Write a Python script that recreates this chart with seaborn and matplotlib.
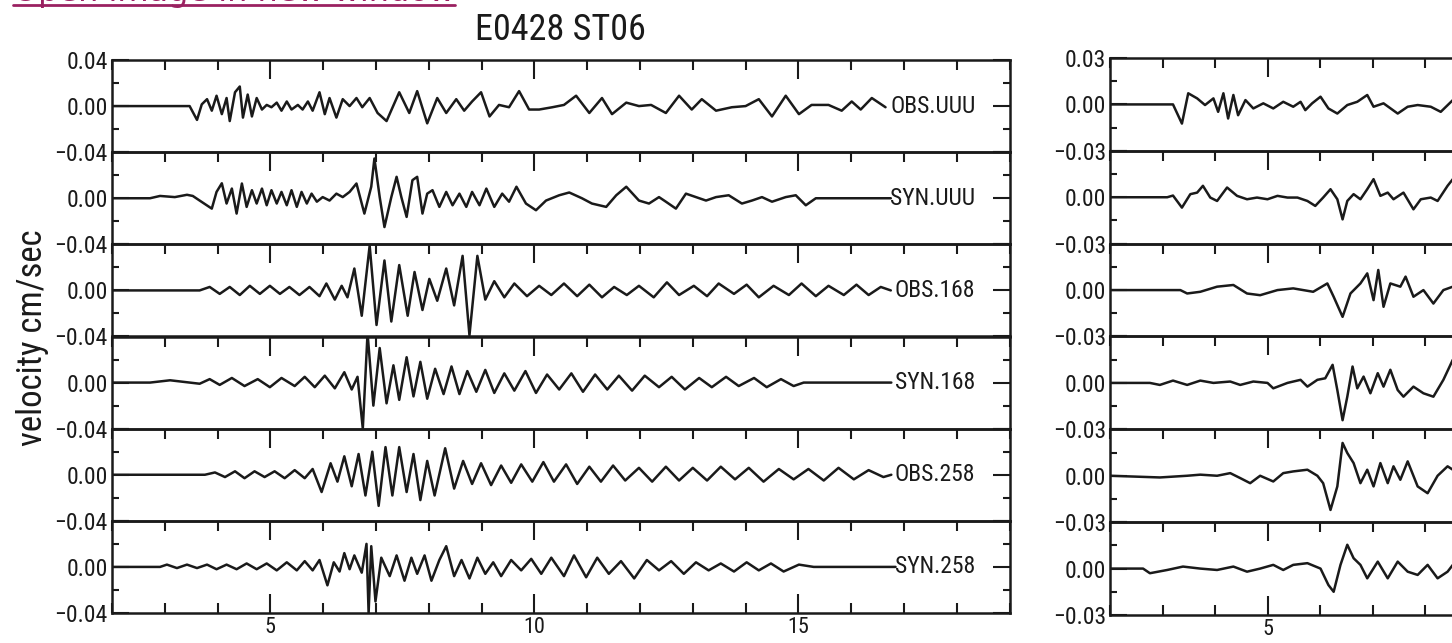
import matplotlib
matplotlib.use("Agg")
import matplotlib.pyplot as plt
from matplotlib.ticker import FixedLocator, MultipleLocator
from matplotlib.lines import Line2D
from matplotlib import font_manager
import seaborn as sns

# ---------------- data (time in s, velocity in cm/sec) ----------------
left_labels = ["OBS.UUU", "SYN.UUU", "OBS.168", "SYN.168", "OBS.258", "SYN.258"]
title_text = "E0428 ST06"
ylabel_text = "velocity cm/sec"
link_text = "Open image in new window"
x_tick_values = [5, 10, 15]
left_ylim = 0.04
right_ylim = 0.03
left_ytick_labels = ["\u22120.04", "0.00", "0.04"]
right_ytick_labels = ["\u22120.03", "0.00", "0.03"]

obs_uuu = [(2.0, 0), (3.47, 0), (3.61, -0.012), (3.70, 0.0015), (3.80, 0.006), (3.89, -0.004),
           (3.98, 0.009), (4.08, -0.007), (4.17, 0.007), (4.23, -0.013), (4.33, 0.012), (4.42, 0.017),
           (4.48, -0.010), (4.57, 0.010), (4.65, -0.009), (4.74, 0.007), (4.84, -0.003), (4.93, 0.001),
           (5.02, -0.001), (5.12, 0.003), (5.21, -0.004), (5.31, 0.004), (5.40, -0.003), (5.52, 0.001),
           (5.61, -0.003), (5.71, 0.004), (5.80, -0.004), (5.93, 0.012), (6.03, -0.007), (6.12, 0.007),
           (6.25, -0.010), (6.37, 0.006), (6.50, 0.000), (6.63, 0.007), (6.74, -0.001), (6.88, 0.007),
           (7.03, -0.006), (7.20, -0.013), (7.44, 0.012), (7.63, -0.006), (7.78, 0.013), (7.97, -0.015),
           (8.16, 0.007), (8.33, -0.006), (8.52, 0.006), (8.67, -0.004), (8.82, 0.004), (8.99, 0.012),
           (9.15, -0.009), (9.33, 0.001), (9.52, -0.001), (9.71, 0.013), (9.90, -0.003), (10.09, -0.003),
           (10.34, -0.001), (10.56, 0.001), (10.79, 0.009), (11.04, -0.006), (11.28, 0.007), (11.47, -0.007),
           (11.74, 0.003), (11.98, 0.000), (12.21, 0.001), (12.49, -0.006), (12.74, 0.009), (12.98, -0.003),
           (13.17, 0.006), (13.44, -0.004), (13.74, -0.001), (14.00, 0.000), (14.25, 0.006), (14.50, -0.009),
           (14.76, 0.009), (15.01, -0.007), (15.25, 0.001), (15.57, 0.001), (15.82, -0.004), (16.01, 0.004),
           (16.18, -0.003), (16.39, 0.007), (16.65, -0.001)]

syn_uuu = [(2.0, 0), (2.72, 0), (2.91, 0.002), (3.19, 0.001), (3.42, 0.003), (3.53, 0.002), (3.66, -0.002),
           (3.89, -0.009), (3.98, 0.0055), (4.08, 0.013), (4.17, -0.0046), (4.27, 0.0084), (4.36, -0.0133),
           (4.46, 0.0128), (4.55, -0.0075), (4.65, 0.007), (4.74, -0.0046), (4.84, 0.0084), (4.93, -0.0061),
           (5.02, 0.007), (5.12, -0.0046), (5.21, 0.0055), (5.31, -0.0061), (5.40, 0.007), (5.50, -0.0075),
           (5.59, 0.0055), (5.69, -0.0046), (5.78, 0.004), (5.88, -0.003), (5.99, 0.001), (6.12, -0.002),
           (6.25, 0.004), (6.37, 0.001), (6.50, 0.0055), (6.63, 0.0128), (6.78, -0.0133), (6.91, 0.010),
           (6.97, 0.0345), (7.07, 0.001), (7.16, -0.025), (7.29, 0.001), (7.39, 0.0186), (7.48, 0.001),
           (7.58, -0.0162), (7.69, 0.0157), (7.78, 0.0186), (7.88, -0.0133), (7.97, 0.004), (8.07, 0.007),
           (8.20, -0.0075), (8.33, 0.0055), (8.45, -0.0061), (8.58, 0.004), (8.71, -0.0075), (8.82, 0.0055),
           (8.96, -0.0061), (9.09, 0.0084), (9.24, -0.0075), (9.39, 0.004), (9.52, -0.003), (9.66, 0.010),
           (9.84, -0.0046), (10.03, -0.0104), (10.22, -0.002), (10.47, 0.0026), (10.66, 0.005), (10.90, 0.0),
           (11.09, -0.0046), (11.36, -0.0075), (11.55, 0.0026), (11.74, 0.010), (11.98, -0.002), (12.17, -0.0046),
           (12.36, 0.001), (12.49, -0.003), (12.68, -0.009), (12.87, 0.004), (13.06, 0.001), (13.25, -0.002),
           (13.44, 0.001), (13.68, 0.0026), (13.93, -0.0046), (14.12, -0.002), (14.31, 0.001), (14.50, -0.003),
           (14.76, 0.001), (14.95, 0.0026), (15.14, -0.0061), (15.33, 0.0), (16.75, 0.0)]

obs_168 = [(2.0, 0), (3.66, 0), (3.85, 0.003), (4.04, -0.003), (4.23, 0.003), (4.42, -0.004), (4.61, 0.004),
           (4.80, -0.003), (4.99, 0.004), (5.18, -0.003), (5.36, 0.003), (5.55, -0.004), (5.74, 0.003),
           (5.93, -0.005), (6.06, 0.006), (6.22, -0.008), (6.35, 0.004), (6.46, -0.006), (6.59, 0.019),
           (6.73, -0.022), (6.88, 0.039), (7.01, -0.030), (7.16, 0.026), (7.29, -0.027), (7.44, 0.022),
           (7.60, -0.022), (7.73, 0.016), (7.88, -0.017), (8.01, 0.010), (8.16, -0.009), (8.33, 0.019),
           (8.48, -0.013), (8.64, 0.030), (8.77, -0.039), (8.92, 0.030), (9.07, -0.008), (9.24, 0.008),
           (9.43, -0.006), (9.62, 0.006), (9.86, -0.005), (10.09, 0.004), (10.32, -0.004), (10.56, 0.006),
           (10.81, -0.005), (11.04, 0.005), (11.28, -0.006), (11.51, 0.003), (11.75, -0.004), (11.98, 0.004),
           (12.26, -0.006), (12.51, 0.007), (12.74, -0.004), (13.02, 0.004), (13.27, -0.005), (13.49, 0.006),
           (13.78, -0.003), (14.02, 0.005), (14.25, -0.006), (14.53, 0.004), (14.82, -0.004), (15.06, 0.006),
           (15.33, -0.005), (15.57, 0.004), (15.86, -0.004), (16.10, 0.005), (16.33, -0.004), (16.56, 0.003),
           (16.75, 0.0)]

syn_168 = [(2.0, 0), (2.72, 0), (3.10, 0.002), (3.66, -0.001), (3.85, 0.003), (4.04, -0.002), (4.27, 0.004),
           (4.51, -0.003), (4.76, 0.003), (4.99, -0.004), (5.21, 0.004), (5.46, -0.003), (5.65, 0.005),
           (5.84, -0.004), (6.03, 0.006), (6.22, -0.005), (6.40, 0.009), (6.54, -0.006), (6.65, 0.005),
           (6.75, -0.040), (6.84, 0.043), (6.95, -0.020), (7.07, 0.030), (7.20, -0.018), (7.33, 0.015),
           (7.44, -0.015), (7.58, 0.022), (7.71, -0.012), (7.84, 0.018), (7.97, -0.014), (8.12, 0.012),
           (8.28, -0.010), (8.43, 0.014), (8.58, -0.010), (8.73, 0.010), (8.90, -0.008), (9.07, 0.011),
           (9.24, -0.009), (9.43, 0.008), (9.62, -0.007), (9.83, 0.010), (10.03, -0.009), (10.24, 0.007),
           (10.47, -0.006), (10.70, 0.008), (10.92, -0.008), (11.15, 0.007), (11.38, -0.006), (11.60, 0.006),
           (11.85, -0.007), (12.09, 0.006), (12.36, -0.004), (12.60, 0.005), (12.85, -0.006), (13.12, 0.004),
           (13.36, -0.004), (13.63, 0.005), (13.87, -0.003), (14.16, 0.004), (14.40, -0.004), (14.67, 0.003),
           (14.91, -0.003), (15.10, 0.0), (16.76, 0.0)]

obs_258 = [(2.0, 0), (3.76, 0), (3.95, 0.002), (4.14, -0.002), (4.33, 0.003), (4.51, -0.003), (4.70, 0.003),
           (4.89, -0.002), (5.08, 0.003), (5.27, -0.003), (5.46, 0.004), (5.65, -0.003), (5.80, 0.005),
           (5.97, -0.015), (6.14, 0.010), (6.27, -0.006), (6.40, 0.016), (6.54, -0.010), (6.67, 0.018),
           (6.80, -0.018), (6.93, 0.020), (7.05, -0.027), (7.18, 0.024), (7.31, -0.018), (7.44, 0.024),
           (7.58, -0.015), (7.71, 0.018), (7.84, -0.022), (7.97, 0.012), (8.11, -0.018), (8.31, 0.023),
           (8.48, -0.012), (8.65, 0.012), (8.82, -0.008), (8.99, 0.010), (9.18, -0.009), (9.37, 0.008),
           (9.56, -0.007), (9.75, 0.009), (9.96, -0.006), (10.17, 0.011), (10.37, -0.006), (10.60, 0.009),
           (10.81, -0.008), (11.04, 0.007), (11.26, -0.006), (11.49, 0.008), (11.72, -0.005), (11.98, 0.006),
           (12.23, -0.006), (12.49, 0.007), (12.74, -0.005), (13.00, 0.006), (13.27, -0.005), (13.53, 0.007),
           (13.80, -0.004), (14.06, 0.006), (14.34, -0.006), (14.63, 0.005), (14.91, -0.004), (15.19, 0.005),
           (15.48, -0.005), (15.76, 0.006), (16.05, -0.004), (16.33, 0.004), (16.61, -0.002), (16.76, 0.0)]

syn_258 = [(2.0, 0), (2.91, 0), (3.04, 0.002), (3.23, -0.001), (3.42, 0.002), (3.61, -0.001), (3.80, 0.002),
           (3.98, -0.002), (4.17, 0.002), (4.36, -0.002), (4.55, 0.003), (4.74, -0.002), (4.93, 0.003),
           (5.12, -0.003), (5.31, 0.004), (5.50, -0.003), (5.65, 0.005), (5.80, -0.003), (5.93, 0.006),
           (6.08, -0.016), (6.20, 0.004), (6.31, -0.004), (6.40, 0.012), (6.50, -0.002), (6.59, 0.010),
           (6.73, -0.005), (6.82, 0.020), (6.86, -0.040), (6.91, 0.018), (6.99, -0.030), (7.10, 0.008),
           (7.26, -0.008), (7.39, 0.010), (7.54, -0.012), (7.67, 0.008), (7.78, -0.006), (7.92, 0.010),
           (8.05, -0.012), (8.20, 0.006), (8.33, 0.018), (8.48, -0.008), (8.62, 0.006), (8.77, -0.010),
           (8.92, 0.008), (9.07, -0.006), (9.22, 0.004), (9.37, -0.008), (9.56, 0.006), (9.75, -0.003),
           (9.94, 0.007), (10.13, -0.006), (10.32, 0.008), (10.56, -0.008), (10.75, 0.010), (10.98, -0.009),
           (11.19, 0.008), (11.41, -0.006), (11.64, 0.005), (11.89, -0.010), (12.13, 0.006), (12.36, -0.003),
           (12.59, 0.005), (12.83, -0.006), (13.06, 0.004), (13.30, -0.003), (13.53, 0.003), (13.78, -0.004),
           (14.02, 0.004), (14.25, -0.003), (14.48, 0.003), (14.72, -0.004), (15.01, 0.002), (15.29, 0.0),
           (16.84, 0.0)]

r_obs_uuu = [(2.0, 0), (3.20, 0), (3.37, -0.0124), (3.49, 0.0072), (3.66, 0.0039), (3.81, -0.0004),
             (3.97, 0.0039), (4.06, -0.0048), (4.16, 0.0072), (4.25, -0.0091), (4.35, 0.0061), (4.44, -0.0070),
             (4.58, 0.0028), (4.73, -0.0026), (4.92, 0.0007), (5.11, -0.0026), (5.30, 0.0017), (5.49, -0.0015),
             (5.63, 0.0017), (5.72, -0.0037), (5.85, 0.0007), (6.01, 0.0050), (6.16, -0.0026), (6.33, -0.0059),
             (6.52, -0.0004), (6.71, 0.0017), (6.90, 0.0061), (7.02, -0.0015), (7.21, 0.0007), (7.48, -0.0059),
             (7.67, -0.0015), (7.86, -0.0004), (8.11, -0.0015), (8.30, -0.0048), (8.53, 0.0028)]

r_syn_uuu = [(2.0, 0), (3.09, 0), (3.20, 0.0011), (3.37, -0.0067), (3.53, 0.0020), (3.66, 0.0030),
             (3.77, 0.0074), (3.91, -0.0002), (4.04, -0.0024), (4.23, 0.0063), (4.42, 0.0009), (4.61, -0.0013),
             (4.80, -0.0002), (5.00, -0.0013), (5.19, 0.0009), (5.38, -0.0002), (5.57, -0.0002), (5.76, -0.0024),
             (5.91, -0.0056), (6.06, -0.0002), (6.20, 0.0052), (6.33, -0.0013), (6.43, -0.0143), (6.52, -0.0024),
             (6.64, 0.0020), (6.77, -0.0013), (6.90, 0.0052), (7.02, 0.0117), (7.15, 0.0009), (7.29, 0.0030),
             (7.40, -0.0013), (7.59, 0.0030), (7.78, -0.0078), (7.92, -0.0013), (8.11, -0.0002), (8.24, -0.0024),
             (8.43, 0.0074), (8.53, 0.0117)]

r_obs_168 = [(2.0, 0), (3.34, 0), (3.47, -0.0022), (3.72, -0.0011), (4.04, 0.0022), (4.35, 0.0033),
             (4.61, -0.0022), (4.86, -0.0033), (5.19, 0.0), (5.49, 0.0011), (5.87, -0.0011), (6.14, 0.0043),
             (6.26, -0.0043), (6.43, -0.0173), (6.58, -0.0022), (6.77, 0.0043), (6.90, 0.0108), (7.02, -0.0065),
             (7.11, 0.0130), (7.21, -0.0108), (7.34, 0.0043), (7.53, 0.0022), (7.63, 0.0087), (7.78, -0.0043),
             (7.97, 0.0), (8.16, -0.0087), (8.35, 0.0), (8.53, 0.0022)]

r_syn_168 = [(2.0, 0), (2.76, 0), (2.95, -0.0013), (3.20, 0.0015), (3.47, -0.0013), (3.72, 0.0015),
             (3.97, 0.0), (4.29, 0.0009), (4.48, -0.0013), (4.73, 0.0009), (5.00, 0.0), (5.11, -0.0035),
             (5.38, 0.0), (5.63, 0.0020), (5.76, -0.0024), (5.95, 0.0020), (6.10, 0.0030), (6.24, 0.0117),
             (6.33, -0.0046), (6.43, -0.0241), (6.52, -0.0089), (6.62, 0.0106), (6.71, -0.0035), (6.83, 0.0041),
             (6.96, -0.0067), (7.10, 0.0063), (7.21, -0.0024), (7.34, 0.0085), (7.48, -0.0046), (7.59, -0.0089),
             (7.78, -0.0024), (7.97, -0.0067), (8.16, -0.0089), (8.35, 0.0020), (8.53, 0.0150)]

r_obs_258 = [(2.0, 0), (2.95, -0.0011), (3.47, 0.0), (3.72, 0.0007), (4.04, 0.0), (4.29, 0.0017),
             (4.48, -0.0015), (4.67, -0.0048), (4.86, 0.0), (5.11, -0.0037), (5.30, 0.0017), (5.49, 0.0028),
             (5.76, 0.0039), (5.95, 0.0), (6.06, -0.0048), (6.20, -0.0221), (6.33, -0.0069), (6.43, 0.0212),
             (6.52, 0.0147), (6.64, 0.0082), (6.77, -0.0048), (6.90, 0.0039), (7.02, -0.0069), (7.15, 0.0082),
             (7.29, -0.0048), (7.40, 0.0061), (7.53, -0.0026), (7.67, 0.0093), (7.86, -0.0069), (8.05, -0.0113),
             (8.24, 0.0), (8.43, 0.0061), (8.53, 0.0039)]

r_syn_258 = [(2.0, 0), (2.63, 0), (2.76, -0.0030), (3.09, -0.0009), (3.39, 0.0013), (3.72, 0.0),
             (4.04, -0.0009), (4.35, 0.0013), (4.61, -0.0020), (4.86, 0.0), (5.11, 0.0024), (5.30, -0.0009),
             (5.49, 0.0024), (5.76, 0.0035), (6.01, 0.0), (6.16, -0.0106), (6.26, -0.0150), (6.39, 0.0024),
             (6.52, 0.0154), (6.64, 0.0067), (6.77, 0.0024), (6.90, -0.0063), (7.10, 0.0045), (7.29, -0.0063),
             (7.48, 0.0045), (7.67, -0.0020), (7.86, -0.0041), (8.05, 0.0024), (8.24, -0.0063), (8.43, -0.0020),
             (8.53, 0.0024)]

left_traces = [obs_uuu, syn_uuu, obs_168, syn_168, obs_258, syn_258]
right_traces = [r_obs_uuu, r_syn_uuu, r_obs_168, r_syn_168, r_obs_258, r_syn_258]

# ---------------- fonts ----------------
sns.set_theme(style="white")
entries = font_manager.fontManager.ttflist
names = {f.name for f in entries}
FAM, STRETCH, S = ["DejaVu Sans"], "normal", 0.8
for cand in ["Liberation Sans Narrow", "Roboto Condensed", "Noto Sans Condensed",
             "Noto Sans SemiCondensed", "DejaVu Sans Condensed", "Open Sans Condensed"]:
    if cand in names:
        FAM, STRETCH, S = [cand, "DejaVu Sans"], "normal", 1.0
        break
else:
    for fam in ["DejaVu Sans", "Noto Sans", "Roboto", "Open Sans"]:
        if any(f.name == fam and str(f.stretch) in ("condensed", "semi-condensed", "600", "625", "700", "750")
               for f in entries):
            FAM, STRETCH, S = [fam, "DejaVu Sans"], "condensed", 1.0
            break
plt.rcParams["font.family"] = FAM
plt.rcParams["font.stretch"] = STRETCH

INK = "#1a1a1a"
W, H = 1452, 643
fig = plt.figure(figsize=(W / 100, H / 100), dpi=100)
fig.patch.set_facecolor("white")


def panel(left_px, top_px, bottom_px, px_per_s, traces, lim, ytl, labels, xlabels):
    n = len(traces)
    rh = (bottom_px - top_px) / n
    for k, tr in enumerate(traces):
        y0 = top_px + k * rh
        ax = fig.add_axes([left_px / W, 1 - (y0 + rh) / H, 17 * px_per_s / W, rh / H])
        ax.set_facecolor("none")
        t = [p[0] for p in tr]
        v = [p[1] for p in tr]
        sns.lineplot(x=t, y=v, ax=ax, color=INK, linewidth=1.8, estimator=None, sort=False, legend=False)
        ax.set_xlim(2, 19)
        ax.set_ylim(-lim, lim)
        last = k == n - 1
        ax.xaxis.set_major_locator(FixedLocator(x_tick_values))
        ax.xaxis.set_minor_locator(MultipleLocator(1))
        ax.set_xticklabels(xlabels if last else ["", "", ""])
        ax.tick_params(axis="x", which="major", direction="in", length=14, width=1.5, color=INK,
                       top=True, bottom=last, labelbottom=last, labeltop=False, pad=3,
                       labelsize=16 * S, labelcolor=INK)
        ax.tick_params(axis="x", which="minor", direction="in", length=7, width=1.5, color=INK,
                       top=True, bottom=last)
        ax.set_yticks([-lim, 0, lim])
        labs = list(ytl) if k == 0 else [ytl[0], ytl[1], ""]
        ax.set_yticklabels(labs)
        ax.yaxis.set_minor_locator(FixedLocator([-lim / 2, lim / 2]))
        ax.tick_params(axis="y", which="major", direction="in", length=12, width=1.5, color=INK,
                       left=True, right=True, labelleft=True, pad=3, labelsize=17 * S, labelcolor=INK)
        ax.tick_params(axis="y", which="minor", direction="in", length=5, width=1.5, color=INK,
                       left=True, right=True)
        for s in ax.spines.values():
            s.set_color(INK)
            s.set_linewidth(1.8)
            s.set_visible(True)
        ax.set_xlabel("")
        ax.set_ylabel("")
        if labels is not None:
            ax.text(18.35, 0, labels[k], ha="right", va="center", fontsize=17 * S, color=INK)


panel(112, 60, 613, 52.8, left_traces, left_ylim, left_ytick_labels, left_labels,
      [str(x) for x in x_tick_values])
# the right panel runs past the picture's edge: only its first labelled tick is in view
panel(1110, 58, 615, 52.5, right_traces, right_ylim, right_ytick_labels, None,
      [str(x_tick_values[0]), "", ""])

fig.text(560 / W, 1 - 30 / H, title_text, ha="center", va="center", fontsize=26 * S, color=INK)
fig.text(33 / W, 1 - 338 / H, ylabel_text, ha="center", va="center", rotation=90,
         fontsize=25 * S, color=INK)

link = fig.text(13 / W, 1 - 1 / H, link_text, ha="left", va="baseline",
                fontsize=23, color="#9a2161", family=["DejaVu Sans"], fontstretch="normal")
fig.canvas.draw()
bb = link.get_window_extent()
fig.add_artist(Line2D([bb.x0 / W, bb.x1 / W], [1 - 4.5 / H, 1 - 4.5 / H], transform=fig.transFigure,
                      color="#9a2161", linewidth=2.0))

fig.savefig("out.png", dpi=100, facecolor="white")
